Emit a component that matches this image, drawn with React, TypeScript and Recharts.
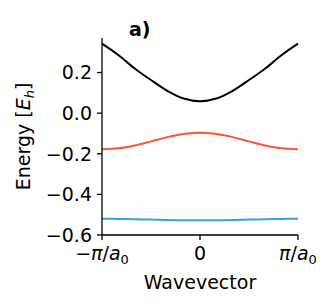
import * as React from "react"
import { LineChart, Line, XAxis, YAxis, Customized } from "recharts"

// wavevector in units of pi/a0
const kValues = [-1, -5 / 6, -4 / 6, -3 / 6, -2 / 6, -1 / 6, 0, 1 / 6, 2 / 6, 3 / 6, 4 / 6, 5 / 6, 1]
const upperBand = [0.342, 0.286, 0.22, 0.163, 0.11, 0.072, 0.059, 0.072, 0.11, 0.163, 0.22, 0.286, 0.342]
const middleBand = [-0.178, -0.173, -0.159, -0.139, -0.118, -0.103, -0.097, -0.103, -0.118, -0.139, -0.159, -0.173, -0.178]
const lowerBand = [-0.52, -0.521, -0.522, -0.524, -0.526, -0.527, -0.527, -0.527, -0.526, -0.524, -0.522, -0.521, -0.52]
const yTicks = [-0.6, -0.4, -0.2, 0, 0.2]
const xTicks = [-1, 0, 1]

const data = kValues.map((k, i) => ({
  k,
  upper: upperBand[i],
  middle: middleBand[i],
  lower: lowerBand[i],
}))

const FONT = "DejaVu Sans"
const FS = 19

const formatY = (v: number) => {
  const s = Math.abs(v).toFixed(1)
  return v < -1e-9 ? "\u2212" + s : s
}

function XTick(props: any) {
  const { x, y, payload } = props
  const v = payload.value
  return (
    <text x={x} y={y + 18} textAnchor="middle" fontFamily={FONT} fontSize={FS} fill="#000">
      {v === 0 ? (
        "0"
      ) : (
        <>
          {v < 0 ? "\u2212" : ""}
          <tspan fontStyle="italic">π</tspan>/<tspan fontStyle="italic">a</tspan>
          <tspan fontSize={13} dy={4}>0</tspan>
        </>
      )}
    </text>
  )
}

function YLabel(props: any) {
  const { viewBox } = props
  const cy = viewBox.y + viewBox.height / 2
  const cx = 30
  return (
    <text
      x={cx}
      y={cy}
      transform={`rotate(-90 ${cx} ${cy})`}
      textAnchor="middle"
      fontFamily={FONT}
      fontSize={FS}
      fill="#000"
    >
      Energy [<tspan fontStyle="italic">E</tspan>
      <tspan fontStyle="italic" fontSize={13} dy={4}>h</tspan>
      <tspan dy={-4}>]</tspan>
    </text>
  )
}

export default function App() {
  return (
    <div style={{ position: "absolute", left: 0, top: 0, width: 331, height: 308, background: "#fff" }}>
      <LineChart width={331} height={308} data={data} margin={{ top: 38, right: 33, bottom: 0, left: 0 }}>
        <XAxis
          dataKey="k"
          type="number"
          domain={[-1, 1]}
          ticks={xTicks}
          tick={<XTick />}
          tickSize={5}
          axisLine={{ stroke: "#000", strokeWidth: 1.3 }}
          tickLine={{ stroke: "#000", strokeWidth: 1.3 }}
          height={73}
          label={{ value: "Wavevector", position: "insideTop", offset: 41, fontFamily: FONT, fontSize: FS, fill: "#000" }}
        />
        <YAxis
          type="number"
          domain={[-0.6, 0.37]}
          ticks={yTicks}
          tickFormatter={formatY}
          allowDataOverflow
          width={102}
          tickSize={5}
          tickMargin={5}
          axisLine={{ stroke: "#000", strokeWidth: 1.3 }}
          tickLine={{ stroke: "#000", strokeWidth: 1.3 }}
          tick={{ fontFamily: FONT, fontSize: FS, fill: "#000" }}
          label={<YLabel />}
        />
        <Line type="monotone" dataKey="upper" stroke="#000" strokeWidth={2} dot={false} isAnimationActive={false} />
        <Line type="monotone" dataKey="middle" stroke="#ff5535" strokeWidth={2} dot={false} isAnimationActive={false} />
        <Line type="monotone" dataKey="lower" stroke="#3a9fdc" strokeWidth={2} dot={false} isAnimationActive={false} />
        <Customized
          component={() => (
            <text x={129} y={36} fontFamily={FONT} fontSize={FS} fontWeight="bold" fill="#000">
              a)
            </text>
          )}
        />
      </LineChart>
    </div>
  )
}
